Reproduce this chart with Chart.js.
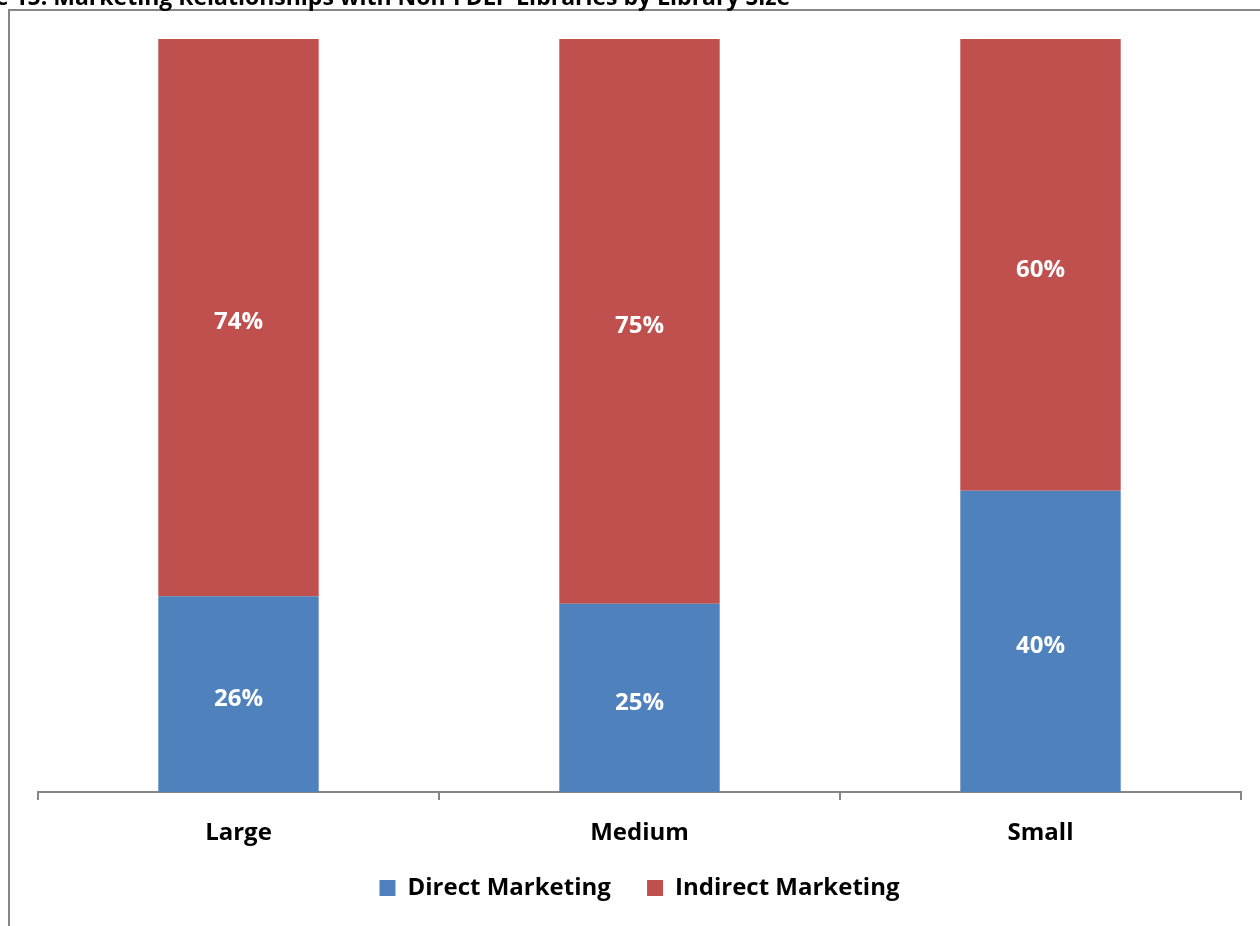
<!DOCTYPE html>
<html>
<head>
<meta charset="utf-8">
<title>Marketing Relationships with Non-FDLP Libraries by Library Size</title>
<script src="https://cdn.jsdelivr.net/npm/chart.js@4/dist/chart.umd.min.js"></script>
<style>
  html, body { margin: 0; padding: 0; background: #ffffff; }
  #wrap { width: 1260px; height: 926px; position: relative; }
</style>
</head>
<body>
<div id="wrap"><canvas id="chart" width="1260" height="926"></canvas></div>
<script>
// Library size groups and the share of each marketing relationship (%)
const categories = ['Large', 'Medium', 'Small'];
const directMarketing = [26, 25, 40];
const indirectMarketing = [74, 75, 60];
const seriesNames = ['Direct Marketing', 'Indirect Marketing'];
const figureTitle = 'Figure 15: Marketing Relationships with Non-FDLP Libraries by Library Size';

const FONT = '"Open Sans", sans-serif';
const GRAY = '#868686';

// Frame line and the figure caption running off the top edge
const framePlugin = {
  id: 'frame',
  beforeDraw(chart) {
    const ctx = chart.ctx;
    ctx.save();
    ctx.fillStyle = '#ffffff';
    ctx.fillRect(0, 0, chart.width, chart.height);
    ctx.strokeStyle = GRAY;
    ctx.lineWidth = 2;
    ctx.beginPath();
    ctx.moveTo(9, chart.height);
    ctx.lineTo(9, 10);
    ctx.lineTo(chart.width, 10);
    ctx.stroke();
    ctx.fillStyle = '#000000';
    ctx.font = 'bold 23px ' + FONT;
    ctx.textAlign = 'right';
    ctx.textBaseline = 'alphabetic';
    ctx.fillText(figureTitle, 790, 5);
    ctx.restore();
  }
};

// Percentage labels centred in each stacked segment
const valueLabels = {
  id: 'valueLabels',
  afterDatasetsDraw(chart) {
    const ctx = chart.ctx;
    ctx.save();
    ctx.fillStyle = '#ffffff';
    ctx.font = 'bold 24px ' + FONT;
    ctx.textAlign = 'center';
    ctx.textBaseline = 'middle';
    chart.data.datasets.forEach((ds, i) => {
      const meta = chart.getDatasetMeta(i);
      meta.data.forEach((bar, j) => {
        const p = bar.getProps(['x', 'y', 'base'], true);
        ctx.fillText(ds.data[j] + '%', p.x, (p.y + p.base) / 2 + 5);
      });
    });
    ctx.restore();
  }
};

new Chart(document.getElementById('chart'), {
  type: 'bar',
  data: {
    labels: categories,
    datasets: [
      { label: seriesNames[0], data: directMarketing, backgroundColor: '#4F81BD' },
      { label: seriesNames[1], data: indirectMarketing, backgroundColor: '#C0504D' }
    ]
  },
  options: {
    responsive: false,
    animation: false,
    devicePixelRatio: 1,
    layout: { padding: { top: 39, left: 38, right: 19, bottom: 16 } },
    datasets: { bar: { categoryPercentage: 1, barPercentage: 0.4 } },
    scales: {
      x: {
        stacked: true,
        offset: true,
        grid: { display: true, offset: true, drawOnChartArea: false, color: GRAY, lineWidth: 2, tickLength: 8 },
        border: { display: true, color: GRAY, width: 2 },
        ticks: { color: '#000000', padding: 19, font: { family: FONT, size: 24, weight: 'bold' } },
        afterFit(scale) { scale.height = 54; }
      },
      y: {
        stacked: true,
        display: false,
        min: 0,
        max: 100
      }
    },
    plugins: {
      legend: {
        position: 'bottom',
        labels: {
          color: '#000000',
          boxWidth: 16,
          boxHeight: 16,
          padding: 30,
          font: { family: FONT, size: 24, weight: 'bold' },
          generateLabels(chart) {
            const items = Chart.defaults.plugins.legend.labels.generateLabels(chart);
            items.forEach((it, i) => {
              it.lineWidth = 0;
              if (i < items.length - 1) it.text = it.text + ' ';
            });
            return items;
          }
        }
      },
      tooltip: { enabled: false },
      title: { display: false }
    }
  },
  plugins: [framePlugin, valueLabels]
});
</script>
</body>
</html>
